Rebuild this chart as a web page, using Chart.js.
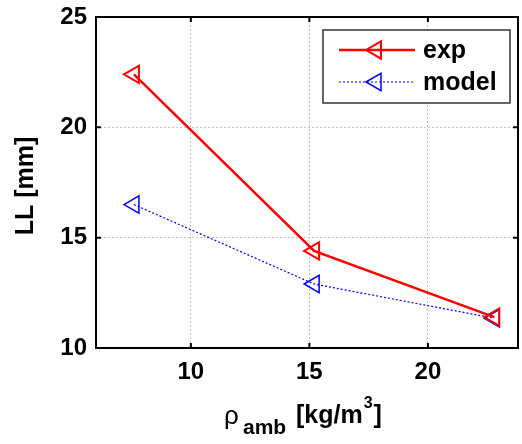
<!DOCTYPE html>
<html>
<head>
<meta charset="utf-8">
<script src="https://cdn.jsdelivr.net/npm/chart.js@4/dist/chart.umd.min.js"></script>
<style>
  body { margin: 0; background: #fff; }
  #wrap { width: 522px; height: 444px; }
</style>
</head>
<body>
<div id="wrap"><canvas id="chart_0" width="522" height="444"></canvas></div>
<script>
// values
var rhoAmb = [7.6, 15.2, 22.8];
var expLL = [22.4, 14.4, 11.4];
var modelLL = [16.5, 12.9, 11.35];
var xTicks = [10, 15, 20];
var yTicks = [10, 15, 20, 25];
var seriesNames = ["exp", "model"];

var FONT = "'Liberation Sans', Arial, sans-serif";

function pts(ys) {
  return rhoAmb.map(function (x, i) { return { x: x, y: ys[i] }; });
}

// box, inner tick marks, axis titles and the legend
var decor = {
  id: "decor",
  afterDraw: function (chart) {
    var ctx = chart.ctx, a = chart.chartArea;
    var xs = chart.scales.x, ys = chart.scales.y;
    ctx.save();
    ctx.strokeStyle = "#000";
    ctx.lineWidth = 2;
    ctx.strokeRect(a.left, a.top, a.right - a.left, a.bottom - a.top);
    ctx.beginPath();
    xTicks.forEach(function (t) {
      var px = xs.getPixelForValue(t);
      ctx.moveTo(px, a.bottom); ctx.lineTo(px, a.bottom - 5);
      ctx.moveTo(px, a.top); ctx.lineTo(px, a.top + 5);
    });
    yTicks.forEach(function (t) {
      var py = ys.getPixelForValue(t);
      ctx.moveTo(a.left, py); ctx.lineTo(a.left + 5, py);
      ctx.moveTo(a.right, py); ctx.lineTo(a.right - 5, py);
    });
    ctx.stroke();

    // y title
    ctx.fillStyle = "#000";
    ctx.save();
    ctx.translate(33, 186);
    ctx.rotate(-Math.PI / 2);
    ctx.font = "bold 25px " + FONT;
    ctx.textAlign = "center";
    ctx.textBaseline = "alphabetic";
    ctx.fillText("LL [mm]", 0, 0);
    ctx.restore();

    // x title with sub/superscript
    ctx.textAlign = "left";
    ctx.textBaseline = "alphabetic";
    ctx.font = "26px " + FONT;
    ctx.fillText("\u03c1", 224, 424);
    ctx.font = "bold 21px " + FONT;
    ctx.fillText("amb", 243, 434);
    ctx.font = "bold 25px " + FONT;
    ctx.fillText("[kg/m", 296, 423);
    var w = ctx.measureText("[kg/m").width;
    ctx.font = "bold 16px " + FONT;
    ctx.fillText("3", 296 + w + 1, 408);
    var w3 = ctx.measureText("3").width;
    ctx.font = "bold 25px " + FONT;
    ctx.fillText("]", 296 + w + w3 + 2, 423);

    // legend
    var lx = 323, ly = 30, lw = 187, lh = 73;
    ctx.fillStyle = "#fff";
    ctx.fillRect(lx, ly, lw, lh);
    ctx.strokeStyle = "#333";
    ctx.lineWidth = 1.5;
    ctx.strokeRect(lx, ly, lw, lh);
    chart.data.datasets.forEach(function (ds, i) {
      var yy = i === 0 ? 50 : 82;
      ctx.save();
      ctx.strokeStyle = ds.borderColor;
      ctx.lineWidth = ds.borderWidth;
      ctx.setLineDash(ds.borderDash || []);
      ctx.beginPath();
      ctx.moveTo(339, yy); ctx.lineTo(415, yy);
      ctx.stroke();
      ctx.setLineDash([]);
      ctx.lineWidth = ds.pointBorderWidth;
      ctx.fillStyle = "rgba(0,0,0,0)";
      Chart.helpers.drawPoint(ctx, {
        pointStyle: "triangle", rotation: -90, radius: ds.pointRadius,
        borderWidth: ds.pointBorderWidth
      }, 376, yy);
      ctx.restore();
      ctx.fillStyle = "#000";
      ctx.font = "bold 25px " + FONT;
      ctx.textBaseline = "middle";
      ctx.fillText(ds.label, 423, yy + 1);
    });
    ctx.restore();
  }
};

new Chart("chart_0", {
  type: "line",
  data: {
    datasets: [{
      label: seriesNames[0],
      data: pts(expLL),
      borderColor: "#ff0000",
      borderWidth: 2.5,
      pointStyle: "triangle",
      rotation: -90,
      pointRadius: 10,
      pointBorderWidth: 2,
      pointBackgroundColor: "rgba(0,0,0,0)",
      pointBorderColor: "#ff0000",
      order: 0
    }, {
      label: seriesNames[1],
      data: pts(modelLL),
      borderColor: "#0000ff",
      borderWidth: 1.2,
      borderDash: [2, 2],
      pointStyle: "triangle",
      rotation: -90,
      pointRadius: 10,
      pointBorderWidth: 1.5,
      pointBackgroundColor: "rgba(0,0,0,0)",
      pointBorderColor: "#0000ff",
      order: 1
    }]
  },
  options: {
    responsive: false,
    animation: false,
    devicePixelRatio: 1,
    clip: false,
    layout: { autoPadding: false, padding: { left: 0, top: 17, right: 4, bottom: 0 } },
    plugins: { legend: { display: false }, tooltip: { enabled: false } },
    scales: {
      x: {
        type: "linear",
        min: 6, max: 23.8,
        afterBuildTicks: function (s) { s.ticks = xTicks.map(function (v) { return { value: v }; }); },
        afterFit: function (s) { s.height = 96; s.paddingLeft = 0; s.paddingRight = 0; },
        grid: { color: "#c4c4c4", lineWidth: 1, drawTicks: false },
        border: { display: false, dash: [2, 2] },
        ticks: { color: "#000", padding: 10, font: { family: FONT, size: 24, weight: "bold" }, maxRotation: 0 }
      },
      y: {
        min: 10, max: 25,
        afterBuildTicks: function (s) { s.ticks = yTicks.map(function (v) { return { value: v }; }); },
        afterFit: function (s) { s.width = 96; s.paddingTop = 0; s.paddingBottom = 0; },
        grid: { color: "#c4c4c4", lineWidth: 1, drawTicks: false },
        border: { display: false, dash: [2, 2] },
        ticks: { color: "#000", padding: 9, font: { family: FONT, size: 24, weight: "bold" } }
      }
    }
  },
  plugins: [decor]
});
</script>
</body>
</html>
